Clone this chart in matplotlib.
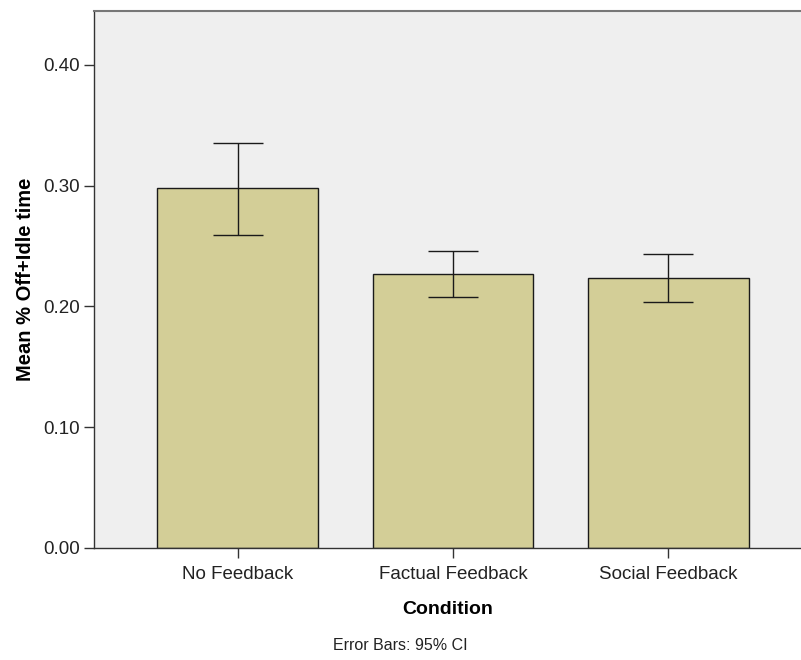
import matplotlib
matplotlib.use("Agg")
import matplotlib.pyplot as plt
import numpy as np

plt.rcParams['font.family'] = ['Liberation Sans', 'DejaVu Sans']

conditions = ['No Feedback', 'Factual Feedback', 'Social Feedback']
means = [0.2981, 0.2269, 0.2236]
ci_low = [0.2592, 0.2079, 0.2037]
ci_high = [0.3354, 0.2460, 0.2435]
yticks = [0.0, 0.1, 0.2, 0.3, 0.4]

x = np.arange(len(conditions))
means_arr = np.array(means)
err = [means_arr - np.array(ci_low), np.array(ci_high) - means_arr]

fig = plt.figure(figsize=(8.01, 6.6), dpi=100)
ax = fig.add_axes([94/801, 1 - 548/660, 1 - 94/801, (548 - 11)/660])
ax.set_facecolor('#efefef')

ax.bar(x, means, width=0.747, color='#d3ce97', edgecolor='#1a1a1a', linewidth=1.0, zorder=2)
ax.errorbar(x, means, yerr=err, fmt='none', ecolor='#1a1a1a', elinewidth=1.0,
            capsize=18, capthick=1.0, zorder=3)

ax.set_xlim(-0.666, 2.615)
ax.set_ylim(0, 0.4447)
ax.set_yticks(yticks)
ax.set_yticklabels(['%.2f' % v for v in yticks])
ax.set_xticks(x)
ax.set_xticklabels(conditions)

for s in ['left', 'bottom', 'top']:
    ax.spines[s].set_color('#333333')
    ax.spines[s].set_linewidth(1.0)
ax.spines['top'].set_color('#777777')
ax.spines['top'].set_linewidth(1.5)
ax.spines['right'].set_visible(False)

ax.tick_params(axis='both', direction='out', length=7, width=1.0, color='#333333',
               labelsize=13.5, labelcolor='#222222', pad=3)
ax.tick_params(axis='x', pad=6)

ax.set_ylabel('Mean % Off+Idle time', fontsize=14.5, fontweight='bold', labelpad=6)
ax.set_xlabel('Condition', fontsize=14, fontweight='bold', labelpad=13)

fig.text(0.5, 1 - 646/660, 'Error Bars: 95% CI', ha='center', va='center',
         fontsize=11.5, color='#222222')

fig.savefig('out.png', dpi=100)
